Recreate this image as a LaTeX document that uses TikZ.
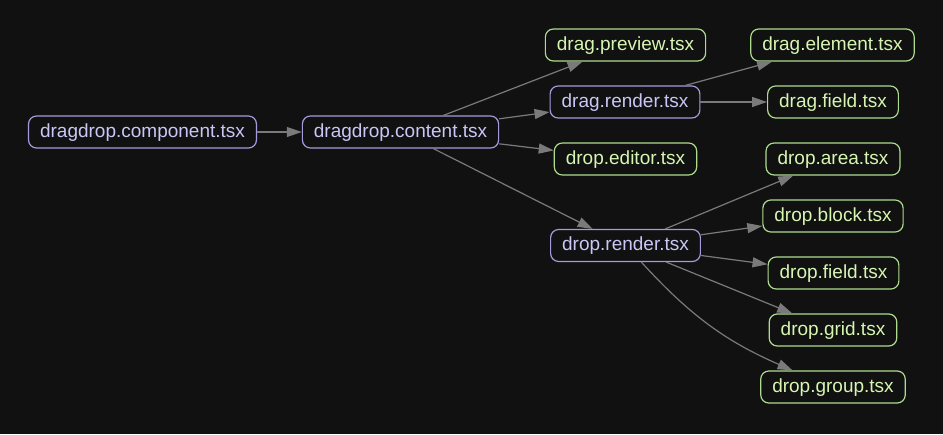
\documentclass[tikz,border=0pt]{standalone}
\usepackage{fontspec}
\setmainfont{Liberation Sans}
\usetikzlibrary{arrows.meta}
\definecolor{bgdark}{HTML}{111111}
\definecolor{purpleline}{HTML}{A29CDC}
\definecolor{purpletext}{HTML}{CAC6F6}
\definecolor{greenline}{HTML}{AEDC8E}
\definecolor{greentext}{HTML}{D6F6B2}
\definecolor{edgegray}{HTML}{7A7A7A}
\tikzset{
  file/.style={rounded corners=8pt,line width=1.2pt,minimum height=32pt,
    inner xsep=11.5pt,inner ysep=0pt,font=\fontsize{19}{19}\selectfont,
    text height=14pt,text depth=4pt},
  inner file/.style={file,draw=purpleline,text=purpletext},
  leaf file/.style={file,draw=greenline,text=greentext},
  dep/.style={draw=edgegray,line width=1.2pt,-{Triangle[length=15pt,width=10pt]}}
}
\begin{document}
\begin{tikzpicture}[x=1pt,y=-1pt]
    \fill[bgdark] (0,0) rectangle (943,434);
    \useasboundingbox (0,0) rectangle (943,434);
    \node[inner file] (comp) at (142.5,132) {dragdrop.component.tsx};
    \node[inner file] (content) at (400.5,132) {dragdrop.content.tsx};
    \node[leaf file] (preview) at (625.5,45) {drag.preview.tsx};
    \node[inner file] (dragrender) at (625,102) {drag.render.tsx};
    \node[leaf file] (editor) at (625.5,159) {drop.editor.tsx};
    \node[inner file] (droprender) at (625.5,245.5) {drop.render.tsx};
    \node[leaf file] (element) at (832.5,45) {drag.element.tsx};
    \node[leaf file] (dragfield) at (833,102) {drag.field.tsx};
    \node[leaf file] (area) at (833,159) {drop.area.tsx};
    \node[leaf file] (block) at (833,216) {drop.block.tsx};
    \node[leaf file] (dropfield) at (833.5,273) {drop.field.tsx};
    \node[leaf file] (grid) at (833,330) {drop.grid.tsx};
    \node[leaf file] (group) at (833,387) {drop.group.tsx};
    \draw[dep] (comp) -- (content);
    \draw[dep] (content) -- (preview);
    \draw[dep] (content) -- (dragrender);
    \draw[dep] (content) -- (editor);
    \draw[dep] (content) -- (droprender);
    \draw[dep] (dragrender) -- (element);
    \draw[dep] (dragrender) -- (dragfield);
    \draw[dep] (droprender) -- (area);
    \draw[dep] (droprender) -- (block);
    \draw[dep] (droprender) -- (dropfield);
    \draw[dep] (droprender) -- (grid);
    \draw[dep] (droprender) to[bend right=12] (group);
\end{tikzpicture}
\end{document}
